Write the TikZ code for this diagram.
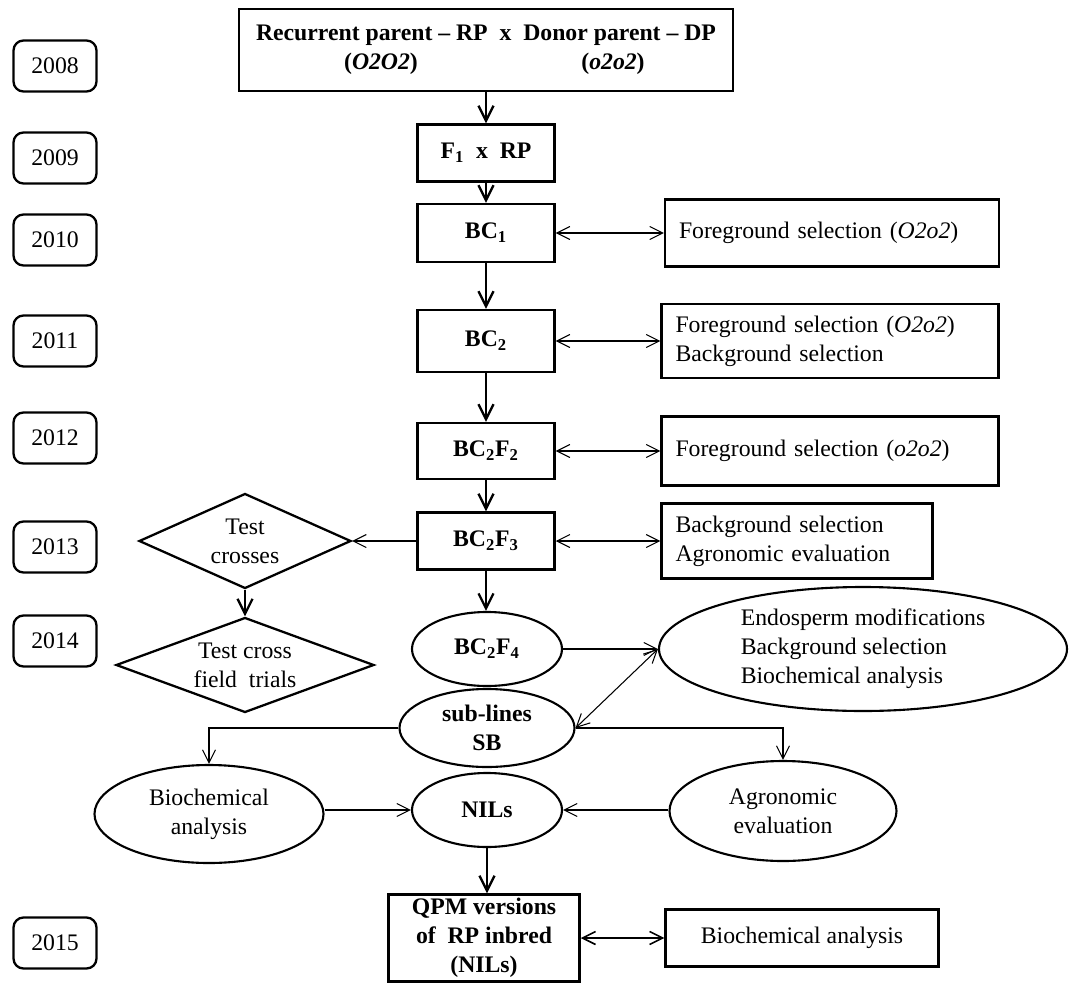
\documentclass[tikz,border=0pt]{standalone}
\usepackage{fontspec}
\setmainfont{Liberation Serif}
\usepackage{tikz}
\usetikzlibrary{shapes,arrows,positioning,calc,arrows.meta}

\begin{document}
\begin{tikzpicture}[x=0.2mm, y=-0.2mm,
    font=\fontsize{13.5}{16.5}\selectfont,
    yearnode/.style={rectangle, rounded corners=2mm, draw, line width=1.3pt, minimum width=16.6mm, minimum height=10.2mm},
    stagenode/.style={rectangle, draw, line width=1.4pt, font=\fontsize{13.5}{16.5}\selectfont\bfseries, minimum width=27.4mm, align=center},
    notenode/.style={rectangle, draw, line width=1.3pt, inner xsep=2.8mm, align=left},
    ovalnode/.style={ellipse, draw, line width=1.2pt, inner sep=0pt, align=center},
    boldoval/.style={ovalnode, font=\fontsize{13.5}{16.5}\selectfont\bfseries},
    testnode/.style={diamond, draw, line width=1.3pt, inner sep=0pt, align=center},
    mainarrow/.style={-{Straight Barb[length=3mm,width=3mm]}, line width=1.3pt},
    thinarrow/.style={-{Straight Barb[length=2.6mm,width=2.6mm]}, line width=0.6pt},
    botharrow/.style={{Straight Barb[length=2.6mm,width=2.6mm]}-{Straight Barb[length=2.6mm,width=2.6mm]}, line width=0.6pt}
]
    \useasboundingbox (0,0) rectangle (1074,983);

    % Years
    \node[yearnode] (y2008) at (55,66) {2008};
    \node[yearnode] (y2009) at (55,158) {2009};
    \node[yearnode] (y2010) at (55,240) {2010};
    \node[yearnode] (y2011) at (55,341) {2011};
    \node[yearnode] (y2012) at (55,438) {2012};
    \node[yearnode] (y2013) at (55,547) {2013};
    \node[yearnode] (y2014) at (55,641) {2014};
    \node[yearnode] (y2015) at (55,943) {2015};

    % Backcross line
    \node[stagenode, minimum width=98.8mm, minimum height=16.4mm] (parents) at (486,50)
        {Recurrent parent -- RP\enspace x\enspace Donor parent -- DP\\
         \makebox[92mm][l]{\makebox[50mm]{(\textit{O2O2})}\makebox[42.8mm]{(\textit{o2o2})}}};
    \node[stagenode, minimum height=11.4mm] (f1) at (486,153) {F\textsubscript{1}\enspace x\enspace RP};
    \node[stagenode, minimum height=11.6mm] (bc1) at (486,233) {BC\textsubscript{1}};
    \node[stagenode, minimum height=12.4mm] (bc2) at (486,341) {BC\textsubscript{2}};
    \node[stagenode, minimum height=11.2mm] (bc2f2) at (486,451) {BC\textsubscript{2}F\textsubscript{2}};
    \node[stagenode, minimum height=11.4mm] (bc2f3) at (486,541) {BC\textsubscript{2}F\textsubscript{3}};
    \node[boldoval, minimum width=30mm, minimum height=14.8mm] (bc2f4) at (487,649) {BC\textsubscript{2}F\textsubscript{4}};
    \node[boldoval, minimum width=35mm, minimum height=15.6mm] (sublines) at (487,728) {sub-lines\\SB};
    \node[boldoval, minimum width=30mm, minimum height=14.8mm] (nils) at (487,810) {NILs};
    \node[stagenode, inner ysep=1pt, minimum width=38.2mm, minimum height=17.4mm] (qpm) at (484,938)
        {QPM versions\\of\enspace RP inbred\\(NILs)};

    % Selection steps
    \node[notenode, text width=61.2mm, minimum height=13.4mm] (fs1) at (832,233) {Foreground selection (\textit{O2o2})};
    \node[notenode, text width=61.8mm, minimum height=14.8mm] (fs2) at (830,341) {Foreground selection (\textit{O2o2})\\Background selection};
    \node[notenode, text width=61.8mm, minimum height=13.8mm] (fs3) at (830,451) {Foreground selection (\textit{o2o2})};
    \node[notenode, text width=48.6mm, minimum height=15mm] (bgag) at (797,541) {Background selection\\Agronomic evaluation};
    \node[ovalnode, align=left, minimum width=81.6mm, minimum height=24.8mm] (endo) at (863,649)
        {Endosperm modifications\\Background selection\\Biochemical analysis};
    \node[ovalnode, minimum width=45.4mm, minimum height=20mm] (agro) at (783,811) {Agronomic\\evaluation};
    \node[ovalnode, minimum width=45.8mm, minimum height=19.6mm] (bioc) at (209,814) {Biochemical\\analysis};
    \node[notenode, minimum width=54.6mm, minimum height=11.4mm] (biob) at (802,938) {Biochemical analysis};

    % Test crosses
    \node[testnode, aspect=2.2, minimum width=42.4mm, minimum height=19mm] (tc) at (245,541) {Test\\crosses};
    \node[testnode, aspect=2.7, minimum width=51.6mm, minimum height=19mm] (tcf) at (245,665) {Test cross\\field\enspace trials};

    % Arrows
    \draw[mainarrow] (parents.south) -- (f1.north);
    \draw[mainarrow] (f1.south) -- (bc1.north);
    \draw[mainarrow] (bc1.south) -- (bc2.north);
    \draw[mainarrow] (bc2.south) -- (bc2f2.north);
    \draw[mainarrow] (bc2f2.south) -- (bc2f3.north);
    \draw[mainarrow] (bc2f3.south) -- (bc2f3.south |- bc2f4.north);
    \draw[mainarrow] (tc.south) -- (tcf.north);
    \draw[mainarrow] (nils.south) -- (nils.south |- qpm.north);

    \draw[botharrow] (bc1.east) -- (fs1.west);
    \draw[botharrow] (bc2.east) -- (fs2.west);
    \draw[botharrow] (bc2f2.east) -- (fs3.west);
    \draw[botharrow] (bc2f3.east) -- (bgag.west);
    \draw[botharrow, line width=0.9pt] (qpm.east) -- (biob.west);
    \draw[thinarrow] (bc2f3.west) -- (tc.east);

    \draw[thinarrow] (bc2f4.east) -- (endo.west);
    \draw[botharrow] (endo.west) -- (sublines.east);
    \draw[thinarrow] (sublines.west) -| (bioc.north);
    \draw[thinarrow] (sublines.east) -| (agro.north);
    \draw[thinarrow] (bioc.east |- nils.west) -- (nils.west);
    \draw[thinarrow] (agro.west |- nils.east) -- (nils.east);
\end{tikzpicture}
\end{document}
